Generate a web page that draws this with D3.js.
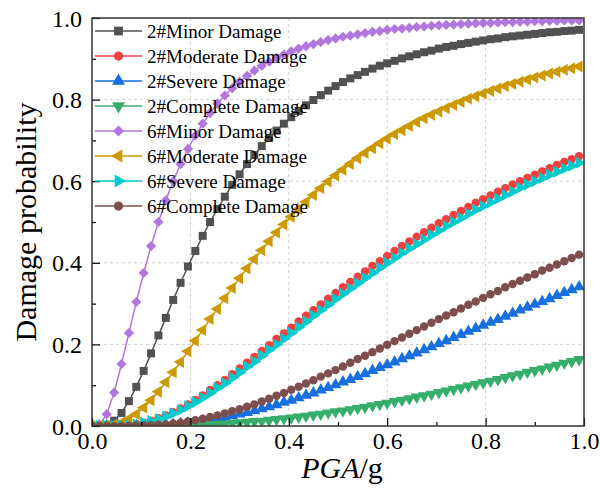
<!DOCTYPE html>
<html>
<head>
<meta charset="utf-8">
<script src="https://cdn.jsdelivr.net/npm/d3@7"></script>
<style>
  body { margin: 0; background: #fff; }
  svg { display: block; }
  text { font-family: "Liberation Serif", "Times New Roman", serif; fill: #000; }
</style>
</head>
<body>
<div id="container"></div>
<script>
// PGA sample points (g)
const pga = [0, 0.015, 0.03, 0.045, 0.06, 0.075, 0.09, 0.105, 0.12, 0.135,
    0.15, 0.165, 0.18, 0.195, 0.21, 0.225, 0.24, 0.255, 0.27, 0.285,
    0.3, 0.315, 0.33, 0.345, 0.36, 0.375, 0.39, 0.405, 0.42, 0.435,
    0.45, 0.465, 0.48, 0.495, 0.51, 0.525, 0.54, 0.555, 0.57, 0.585,
    0.6, 0.615, 0.63, 0.645, 0.66, 0.675, 0.69, 0.705, 0.72, 0.735,
    0.75, 0.765, 0.78, 0.795, 0.81, 0.825, 0.84, 0.855, 0.87, 0.885,
    0.9, 0.915, 0.93, 0.945, 0.96, 0.975, 0.99];

const minor2 = [0, .000, .003, .013, .032, .061, .096, .135, .178, .222,
    .265, .309, .351, .391, .429, .466, .500, .532, .562, .591,
    .617, .642, .664, .686, .706, .724, .741, .757, .772, .786,
    .799, .811, .822, .833, .843, .852, .860, .868, .876, .883,
    .889, .895, .901, .906, .911, .916, .920, .925, .929, .932,
    .936, .939, .942, .945, .948, .950, .953, .955, .957, .959,
    .961, .963, .965, .966, .968, .969, .971];

const moderate2 = [0, .000, .000, .000, .001, .003, .005, .008, .013, .019,
    .026, .034, .043, .053, .064, .075, .088, .100, .113, .127,
    .141, .155, .169, .184, .198, .213, .227, .241, .256, .270,
    .284, .298, .312, .326, .340, .353, .366, .379, .392, .404,
    .417, .429, .441, .452, .464, .475, .486, .497, .507, .517,
    .527, .537, .547, .556, .565, .574, .583, .592, .600, .608,
    .616, .624, .632, .640, .647, .654, .661];

const severe2 = [0, .000, .000, .000, .000, .000, .000, .001, .001, .002,
    .003, .004, .006, .007, .009, .012, .015, .018, .021, .025,
    .029, .033, .037, .042, .047, .052, .058, .063, .069, .075,
    .081, .088, .094, .101, .108, .114, .121, .128, .136, .143,
    .150, .157, .165, .172, .179, .187, .194, .202, .209, .217,
    .224, .232, .239, .247, .254, .261, .269, .276, .284, .291,
    .298, .305, .312, .320, .327, .334, .341];

const complete2 = [0, .000, .000, .000, .000, .000, .000, .000, .000, .000,
    .001, .001, .001, .002, .002, .003, .004, .004, .005, .007,
    .008, .009, .011, .012, .014, .016, .018, .020, .022, .024,
    .027, .029, .032, .035, .037, .040, .043, .046, .050, .053,
    .056, .060, .063, .067, .071, .074, .078, .082, .086, .090,
    .094, .098, .102, .106, .110, .114, .119, .123, .127, .132,
    .136, .140, .145, .149, .154, .158, .163];

const minor6 = [0, .003, .029, .082, .152, .228, .304, .375, .441, .500,
    .553, .600, .642, .679, .712, .741, .767, .790, .810, .828,
    .844, .858, .871, .883, .893, .902, .910, .918, .925, .931,
    .936, .941, .946, .950, .954, .957, .960, .963, .966, .968,
    .971, .973, .974, .976, .978, .979, .981, .982, .983, .984,
    .985, .986, .987, .988, .988, .989, .990, .990, .991, .991,
    .992, .992, .993, .993, .994, .994, .994];

const moderate6 = [0, .000, .001, .003, .008, .017, .029, .045, .063, .084,
    .107, .132, .157, .183, .209, .235, .262, .287, .313, .338,
    .362, .386, .409, .431, .453, .474, .494, .513, .531, .549,
    .566, .583, .599, .614, .628, .642, .656, .669, .681, .693,
    .704, .715, .725, .735, .745, .754, .763, .771, .779, .787,
    .794, .802, .808, .815, .821, .827, .833, .839, .844, .849,
    .854, .859, .864, .868, .873, .877, .881];

const severe6 = [0, .000, .000, .000, .001, .002, .004, .008, .012, .017,
    .024, .031, .039, .049, .059, .069, .081, .093, .105, .118,
    .131, .145, .158, .172, .186, .200, .214, .228, .242, .256,
    .270, .284, .297, .311, .324, .337, .350, .363, .375, .388,
    .400, .412, .424, .435, .446, .457, .468, .479, .490, .500,
    .510, .520, .530, .539, .548, .557, .566, .575, .584, .592,
    .600, .608, .616, .623, .631, .638, .645];

const complete6 = [0, .000, .000, .000, .000, .000, .001, .001, .002, .003,
    .004, .006, .008, .011, .014, .018, .022, .026, .031, .036,
    .041, .047, .053, .060, .067, .074, .081, .089, .096, .104,
    .112, .121, .129, .137, .146, .155, .164, .172, .181, .190,
    .199, .208, .217, .226, .235, .244, .253, .262, .271, .279,
    .288, .297, .305, .314, .323, .331, .340, .348, .356, .364,
    .372, .381, .388, .396, .404, .412, .420];

const seriesNames = ['2#Minor Damage', '2#Moderate Damage', '2#Severe Damage', '2#Complete Damage',
    '6#Minor Damage', '6#Moderate Damage', '6#Severe Damage', '6#Complete Damage'];
const seriesValues = [minor2, moderate2, severe2, complete2, minor6, moderate6, severe6, complete6];

const xTicks = [0, 0.2, 0.4, 0.6, 0.8, 1.0];
const yTicks = [0, 0.2, 0.4, 0.6, 0.8, 1.0];
const xMinor = [0.1, 0.3, 0.5, 0.7, 0.9];
const yMinor = [0.1, 0.3, 0.5, 0.7, 0.9];

// styles: colour, symbol type, rotation, symbol area
const colors = ['#515151', '#F14040', '#1A6FDF', '#37AD6B', '#B177DE', '#CC9900', '#00CBCC', '#7D4E4E'];
const shapes = [
    [d3.symbolSquare, 0, 64],
    [d3.symbolCircle, 0, 56],
    [d3.symbolTriangle, 0, 62],
    [d3.symbolTriangle, 180, 62],
    [d3.symbolSquare, 45, 52],
    [d3.symbolTriangle, -90, 62],
    [d3.symbolTriangle, 90, 62],
    [d3.symbolCircle, 0, 56]
];

const W = 600, H = 495;
const pLeft = 92, pRight = 584, pTop = 18, pBottom = 426;

const svg = d3.select('#container').append('svg')
    .attr('width', W)
    .attr('height', H);

const x = d3.scaleLinear().domain([0, 1]).range([pLeft, pRight]);
const y = d3.scaleLinear().domain([0, 1]).range([pBottom, pTop]);

svg.append('defs').append('clipPath').attr('id', 'plot')
    .append('rect')
    .attr('x', pLeft).attr('y', pTop)
    .attr('width', pRight - pLeft).attr('height', pBottom - pTop);

// grid
const grid = svg.append('g');
grid.selectAll('.gx').data(xTicks.slice(1, -1)).join('line')
    .attr('x1', d => x(d)).attr('x2', d => x(d))
    .attr('y1', pTop).attr('y2', pBottom)
    .attr('stroke', '#cfcfcf').attr('stroke-width', 1)
    .attr('stroke-dasharray', '3,3');
grid.selectAll('.gy').data(yTicks.slice(1, -1)).join('line')
    .attr('x1', pLeft).attr('x2', pRight)
    .attr('y1', d => y(d)).attr('y2', d => y(d))
    .attr('stroke', '#cfcfcf').attr('stroke-width', 1)
    .attr('stroke-dasharray', '3,3');

// curves
const plot = svg.append('g').attr('clip-path', 'url(#plot)');
const line = d3.line().x(d => x(d[0])).y(d => y(d[1]));

seriesValues.forEach((vals, i) => {
    const pts = vals.map((v, k) => [pga[k], v]);
    const g = plot.append('g');
    g.append('path')
        .attr('d', line(pts))
        .attr('fill', 'none')
        .attr('stroke', colors[i])
        .attr('stroke-width', 1.5);
    const sym = d3.symbol().type(shapes[i][0]).size(shapes[i][2]);
    g.selectAll('path.m').data(pts).join('path')
        .attr('class', 'm')
        .attr('d', sym)
        .attr('transform', d => `translate(${x(d[0])},${y(d[1])}) rotate(${shapes[i][1]})`)
        .attr('fill', colors[i]);
});

// axes (ticks point inward)
const fmt = d3.format('.1f');
const xAxis = svg.append('g').attr('transform', `translate(0,${pBottom})`)
    .call(d3.axisBottom(x).tickValues(xTicks).tickFormat(fmt).tickSizeInner(-8).tickSizeOuter(0).tickPadding(6));
svg.append('g').attr('transform', `translate(0,${pBottom})`)
    .call(d3.axisBottom(x).tickValues(xMinor).tickFormat('').tickSizeInner(-4).tickSizeOuter(0));
const yAxis = svg.append('g').attr('transform', `translate(${pLeft},0)`)
    .call(d3.axisLeft(y).tickValues(yTicks).tickFormat(fmt).tickSizeInner(-8).tickSizeOuter(0).tickPadding(10));
svg.append('g').attr('transform', `translate(${pLeft},0)`)
    .call(d3.axisLeft(y).tickValues(yMinor).tickFormat('').tickSizeInner(-4).tickSizeOuter(0));

svg.selectAll('.domain').remove();
svg.selectAll('.tick line').attr('stroke', '#000').attr('stroke-width', 1.2);
xAxis.selectAll('text').style('font-size', '24px').attr('fill', '#000');
yAxis.selectAll('text').style('font-size', '24px').attr('fill', '#000').attr('dy', '0.34em');

svg.append('rect')
    .attr('x', pLeft).attr('y', pTop)
    .attr('width', pRight - pLeft).attr('height', pBottom - pTop)
    .attr('fill', 'none').attr('stroke', '#333').attr('stroke-width', 1.5);

// titles
svg.append('text')
    .attr('transform', `translate(36,${(pTop + pBottom) / 2}) rotate(-90)`)
    .attr('text-anchor', 'middle')
    .style('font-size', '30px')
    .text('Damage probability');

const xt = svg.append('text')
    .attr('x', (pLeft + pRight) / 2 + 4).attr('y', 478)
    .attr('text-anchor', 'middle')
    .style('font-size', '30px');
xt.append('tspan').style('font-style', 'italic').text('PGA');
xt.append('tspan').text('/g');

// legend
const lg = svg.append('g');
seriesNames.forEach((name, i) => {
    const ry = 31 + i * 25;
    lg.append('line')
        .attr('x1', 95).attr('x2', 142)
        .attr('y1', ry).attr('y2', ry)
        .attr('stroke', colors[i]).attr('stroke-width', 1.5);
    lg.append('path')
        .attr('d', d3.symbol().type(shapes[i][0]).size(shapes[i][2] * 1.2)())
        .attr('transform', `translate(118.5,${ry}) rotate(${shapes[i][1]})`)
        .attr('fill', colors[i]);
    lg.append('text')
        .attr('x', 147).attr('y', ry + 7)
        .style('font-size', '19px')
        .text(name);
});
</script>
</body>
</html>
